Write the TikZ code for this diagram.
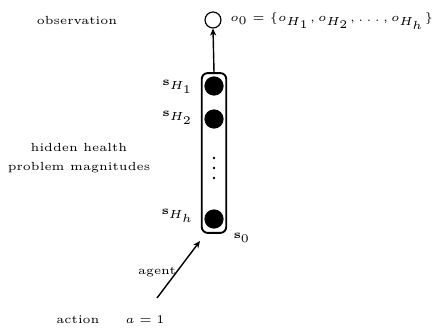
\documentclass[tikz,border=0pt]{standalone}
\usetikzlibrary{arrows.meta}
\begin{document}
\begin{tikzpicture}[x=0.4255pt,y=-0.4255pt,
  lbl/.style={font=\tiny,inner sep=0pt},
  ball/.style={circle,fill=black,minimum size=8.2pt,inner sep=0pt},
  dotn/.style={circle,fill=black,minimum size=1.1pt,inner sep=0pt},
  obs/.style={circle,draw,line width=0.5pt,minimum size=6.8pt,inner sep=0pt},
  conn/.style={line width=0.6pt,-{Stealth[length=3pt,width=2.6pt]}}]
\useasboundingbox (0,0) rectangle (439,328);
\node[lbl] (obstxt) at (77,20) {observation};
\node[obs] (o) at (213,20) {};
\node[lbl,anchor=west] (oform) at (230,21) {$o_0 = \{o_{H_1}, o_{H_2}, \ldots, o_{H_h}\}$};
\node[draw,line width=0.8pt,rounded corners=2.5pt,minimum width=10.4pt,minimum height=68pt,inner sep=0pt] (box) at (214,153) {};
\node[ball] (b1) at (214,86) {};
\node[ball] (b2) at (214,119) {};
\node[ball] (bh) at (214,219) {};
\node[dotn] (d1) at (214,158) {};
\node[dotn] (d2) at (214,168) {};
\node[dotn] (d3) at (214,178) {};
\node[lbl] (s1) at (178,87) {$\mathbf{s}_{H_1}$};
\node[lbl] (s2) at (178,118) {$\mathbf{s}_{H_2}$};
\node[lbl] (sh) at (178,216) {$\mathbf{s}_{H_h}$};
\node[lbl] (s0) at (242,238) {$\mathbf{s}_0$};
\node[lbl] (hh1) at (79,147) {hidden health};
\node[lbl] (hh2) at (79,168) {problem magnitudes};
\node[lbl] (agent) at (157,272) {agent};
\node[lbl] (action) at (78,320) {action};
\node[lbl] (aeq) at (145,320) {$a = 1$};
\coordinate (astart) at (157,298);
\coordinate (aend) at (200,241);
\draw[conn] (box.north) -- (o.south);
\draw[conn] (astart) -- (aend);
\end{tikzpicture}
\end{document}
